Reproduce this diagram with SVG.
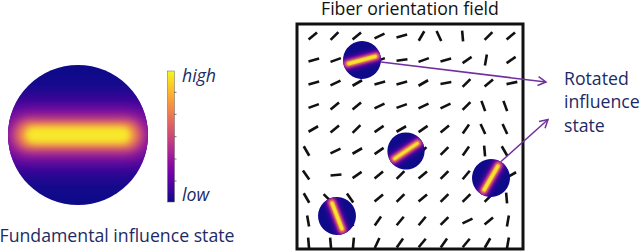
<svg xmlns="http://www.w3.org/2000/svg" xmlns:xlink="http://www.w3.org/1999/xlink" width="640" height="251" viewBox="0 0 640 251">
<style>
  .t { font-family: "Open Sans", "Noto Sans", sans-serif; font-size: 17.7px; }
  .navy { fill: #1c2a66; }
  .blk { fill: #111111; }
  .it { font-style: italic; }
  .dash { stroke: #111111; stroke-width: 2.6; stroke-linecap: butt; }
  .conn { stroke: #7030a0; stroke-width: 1.5; fill: none; }
  .tick { stroke: #555555; stroke-width: 0.8; }
</style>
<defs>
  <filter id="b12" x="-50%" y="-100%" width="200%" height="300%"><feGaussianBlur stdDeviation="13"/></filter>
  <filter id="b8" x="-50%" y="-100%" width="200%" height="300%"><feGaussianBlur stdDeviation="8"/></filter>
  <filter id="b5" x="-50%" y="-100%" width="200%" height="300%"><feGaussianBlur stdDeviation="5"/></filter>
  <filter id="b3" x="-50%" y="-100%" width="200%" height="300%"><feGaussianBlur stdDeviation="3"/></filter>
  <filter id="b2" x="-50%" y="-100%" width="200%" height="300%"><feGaussianBlur stdDeviation="2.4"/></filter>
  <clipPath id="cc"><circle cx="0" cy="0" r="70"/></clipPath>
  <linearGradient id="plasma" x1="0" y1="1" x2="0" y2="0">
    <stop offset="0" stop-color="#0d0887"/>
    <stop offset="0.1" stop-color="#41049d"/>
    <stop offset="0.2" stop-color="#6a00a8"/>
    <stop offset="0.3" stop-color="#8f0da4"/>
    <stop offset="0.4" stop-color="#b12a90"/>
    <stop offset="0.5" stop-color="#cc4778"/>
    <stop offset="0.6" stop-color="#e16462"/>
    <stop offset="0.7" stop-color="#f2844b"/>
    <stop offset="0.8" stop-color="#fca636"/>
    <stop offset="0.9" stop-color="#fcce25"/>
    <stop offset="1" stop-color="#f0f921"/>
  </linearGradient>
  <g id="heatBig">
    <circle cx="0" cy="0" r="70" fill="#0f0a8a"/>
    <g clip-path="url(#cc)">
      <rect x="-100" y="-34" width="200" height="68" rx="34" fill="#6a00a8" filter="url(#b12)"/>
      <rect x="-72" y="-21" width="144" height="42" rx="21" fill="#b8308f" filter="url(#b8)"/>
      <rect x="-62" y="-14" width="124" height="28" rx="14" fill="#f28a48" filter="url(#b5)"/>
      <rect x="-53" y="-8.5" width="106" height="17" rx="8.5" fill="#f8e82a" filter="url(#b3)"/>
    </g>
  </g>
  <g id="heatSmall">
    <circle cx="0" cy="0" r="70" fill="#0f0a8a"/>
    <g clip-path="url(#cc)">
      <rect x="-85" y="-24" width="170" height="48" rx="24" fill="#6a00a8" filter="url(#b8)"/>
      <rect x="-70" y="-15" width="140" height="30" rx="15" fill="#c0398a" filter="url(#b5)"/>
      <rect x="-63" y="-10" width="126" height="20" rx="10" fill="#f58c46" filter="url(#b3)"/>
      <rect x="-57" y="-6" width="114" height="12" rx="6" fill="#f6e62a" filter="url(#b2)"/>
    </g>
  </g>
  <line id="d" x1="-5.5" y1="0" x2="5.5" y2="0" class="dash"/>
  <marker id="ah" markerUnits="userSpaceOnUse" markerWidth="12" markerHeight="12" refX="10" refY="6" orient="auto" overflow="visible">
    <path d="M2,1.5 L10,6 L2,10.5" fill="none" stroke="#7030a0" stroke-width="1.5"/>
  </marker>
</defs>

<g id="fundamental-state">
  <use href="#heatBig" transform="translate(78,135)"/>
  <text class="t navy" x="-0.5" y="242">Fundamental influence state</text>
</g>

<g id="colorbar">
  <rect x="167.5" y="71" width="7" height="131" fill="url(#plasma)" stroke="#666" stroke-width="0.5"/>
  <line class="tick" x1="174" y1="92.3" x2="176.5" y2="92.3"/>
  <line class="tick" x1="174" y1="114.3" x2="176.5" y2="114.3"/>
  <line class="tick" x1="174" y1="136.7" x2="176.5" y2="136.7"/>
  <line class="tick" x1="174" y1="159" x2="176.5" y2="159"/>
  <line class="tick" x1="174" y1="181" x2="176.5" y2="181"/>
  <text class="t navy it" x="182" y="82">high</text>
  <text class="t navy it" x="182" y="201">low</text>
</g>

<g id="fiber-field">
  <text class="t blk" x="321" y="15">Fiber orientation field</text>
  <rect x="297" y="24" width="226" height="225" fill="none" stroke="#111" stroke-width="3"/>
  <g id="dashes">
    <use href="#d" transform="translate(312.8,36) rotate(-40)"/>
    <use href="#d" transform="translate(334.5,36) rotate(-45)"/>
    <use href="#d" transform="translate(356.8,36) rotate(-40)"/>
    <use href="#d" transform="translate(379.5,36) rotate(-25)"/>
    <use href="#d" transform="translate(401.8,36) rotate(-15)"/>
    <use href="#d" transform="translate(421.5,36) rotate(-60)"/>
    <use href="#d" transform="translate(438.9,36) rotate(-115)"/>
    <use href="#d" transform="translate(462.6,36) rotate(-95)"/>
    <use href="#d" transform="translate(488.5,36) rotate(-45)"/>
    <use href="#d" transform="translate(510.8,36) rotate(-40)"/>

    <use href="#d" transform="translate(313.8,60) rotate(-15)"/>
    <use href="#d" transform="translate(335.7,60) rotate(-20)"/>
    <use href="#d" transform="translate(357.3,60) rotate(-30)"/>
    <use href="#d" transform="translate(379.7,60) rotate(-20)"/>
    <use href="#d" transform="translate(402,60) rotate(-8)"/>
    <use href="#d" transform="translate(423.7,60) rotate(-20)"/>
    <use href="#d" transform="translate(445.8,60) rotate(-15)"/>
    <use href="#d" transform="translate(467.1,60) rotate(-35)"/>
    <use href="#d" transform="translate(485.9,60) rotate(-80)"/>
    <use href="#d" transform="translate(511.1,60) rotate(-35)"/>

    <use href="#d" transform="translate(313.8,83) rotate(-15)"/>
    <use href="#d" transform="translate(335.5,83) rotate(-25)"/>
    <use href="#d" transform="translate(357.3,83) rotate(-30)"/>
    <use href="#d" transform="translate(379.8,83) rotate(-15)"/>
    <use href="#d" transform="translate(401.8,83) rotate(-15)"/>
    <use href="#d" transform="translate(423.3,83) rotate(-30)"/>
    <use href="#d" transform="translate(445.9,83) rotate(-10)"/>
    <use href="#d" transform="translate(466.5,83) rotate(-45)"/>
    <use href="#d" transform="translate(488.8,83) rotate(-40)"/>
    <use href="#d" transform="translate(511.9,83) rotate(-12)"/>

    <use href="#d" transform="translate(313.7,106) rotate(-20)"/>
    <use href="#d" transform="translate(334.8,106) rotate(-40)"/>
    <use href="#d" transform="translate(356.8,106) rotate(-40)"/>
    <use href="#d" transform="translate(379.5,106) rotate(-25)"/>
    <use href="#d" transform="translate(401.7,106) rotate(-20)"/>
    <use href="#d" transform="translate(423.5,106) rotate(-25)"/>
    <use href="#d" transform="translate(445.5,106) rotate(-25)"/>
    <use href="#d" transform="translate(466.5,106) rotate(-45)"/>
    <use href="#d" transform="translate(483.3,106) rotate(-110)"/>
    <use href="#d" transform="translate(505.3,106) rotate(-110)"/>

    <use href="#d" transform="translate(313.3,129) rotate(-30)"/>
    <use href="#d" transform="translate(334.8,129) rotate(-40)"/>
    <use href="#d" transform="translate(356.5,129) rotate(-45)"/>
    <use href="#d" transform="translate(379.1,129) rotate(-35)"/>
    <use href="#d" transform="translate(401.3,129) rotate(-30)"/>
    <use href="#d" transform="translate(423.1,129) rotate(-35)"/>
    <use href="#d" transform="translate(444.8,129) rotate(-40)"/>
    <use href="#d" transform="translate(465.9,129) rotate(-55)"/>
    <use href="#d" transform="translate(482.9,129) rotate(-115)"/>
    <use href="#d" transform="translate(504.9,129) rotate(-115)"/>

    <use href="#d" transform="translate(306.5,151) rotate(-120)"/>
    <use href="#d" transform="translate(335.5,151) rotate(-25)"/>
    <use href="#d" transform="translate(357.3,151) rotate(-30)"/>
    <use href="#d" transform="translate(379.1,151) rotate(-35)"/>
    <use href="#d" transform="translate(400.8,151) rotate(-40)"/>
    <use href="#d" transform="translate(422.5,151) rotate(-45)"/>
    <use href="#d" transform="translate(444.5,151) rotate(-45)"/>
    <use href="#d" transform="translate(465.9,151) rotate(-55)"/>
    <use href="#d" transform="translate(484.6,151) rotate(-95)"/>
    <use href="#d" transform="translate(504.5,151) rotate(-120)"/>

    <use href="#d" transform="translate(306.1,175) rotate(-125)"/>
    <use href="#d" transform="translate(336,175) rotate(-5)"/>
    <use href="#d" transform="translate(357.1,175) rotate(-35)"/>
    <use href="#d" transform="translate(378.8,175) rotate(-40)"/>
    <use href="#d" transform="translate(400.5,175) rotate(-45)"/>
    <use href="#d" transform="translate(422.8,175) rotate(-40)"/>
    <use href="#d" transform="translate(444.5,175) rotate(-45)"/>
    <use href="#d" transform="translate(466.2,175) rotate(-50)"/>
    <use href="#d" transform="translate(488.2,175) rotate(-50)"/>
    <use href="#d" transform="translate(511.3,175) rotate(-30)"/>

    <use href="#d" transform="translate(306.5,198) rotate(-120)"/>
    <use href="#d" transform="translate(327.5,198) rotate(-135)"/>
    <use href="#d" transform="translate(350.1,198) rotate(-125)"/>
    <use href="#d" transform="translate(378.8,198) rotate(-40)"/>
    <use href="#d" transform="translate(400.5,198) rotate(-45)"/>
    <use href="#d" transform="translate(422.8,198) rotate(-40)"/>
    <use href="#d" transform="translate(444.5,198) rotate(-45)"/>
    <use href="#d" transform="translate(466.5,198) rotate(-45)"/>
    <use href="#d" transform="translate(488.5,198) rotate(-45)"/>
    <use href="#d" transform="translate(506.6,198) rotate(-95)"/>

    <use href="#d" transform="translate(308.1,221) rotate(-100)"/>
    <use href="#d" transform="translate(329.3,221) rotate(-110)"/>
    <use href="#d" transform="translate(351.3,221) rotate(-110)"/>
    <use href="#d" transform="translate(377.9,221) rotate(-55)"/>
    <use href="#d" transform="translate(400.2,221) rotate(-50)"/>
    <use href="#d" transform="translate(422.2,221) rotate(-50)"/>
    <use href="#d" transform="translate(444.5,221) rotate(-45)"/>
    <use href="#d" transform="translate(467.5,221) rotate(-25)"/>
    <use href="#d" transform="translate(488.8,221) rotate(-40)"/>
    <use href="#d" transform="translate(507.9,221) rotate(-80)"/>

    <use href="#d" transform="translate(308.6,243) rotate(-95)"/>
    <use href="#d" transform="translate(330.6,243) rotate(-95)"/>
    <use href="#d" transform="translate(353.4,243) rotate(-85)"/>
    <use href="#d" transform="translate(377.1,243) rotate(-65)"/>
    <use href="#d" transform="translate(399.9,243) rotate(-55)"/>
    <use href="#d" transform="translate(422.2,243) rotate(-50)"/>
    <use href="#d" transform="translate(443.9,243) rotate(-55)"/>
    <use href="#d" transform="translate(466.2,243) rotate(-50)"/>
    <use href="#d" transform="translate(487.5,243) rotate(-60)"/>
    <use href="#d" transform="translate(507.9,243) rotate(-80)"/>
  </g>
</g>

<g id="state-a"><use href="#heatSmall" transform="translate(362,60) scale(0.271) rotate(-15)"/></g>
<g id="state-b"><use href="#heatSmall" transform="translate(406,151) scale(0.266) rotate(-34)"/></g>
<g id="state-c"><use href="#heatSmall" transform="translate(491,178) scale(0.271) rotate(-60)"/></g>
<g id="state-d"><use href="#heatSmall" transform="translate(337,216) scale(0.271) rotate(69)"/></g>

<g id="rotated-label">
  <text class="t navy" x="564" y="85">Rotated</text>
  <text class="t navy" x="564" y="108">influence</text>
  <text class="t navy" x="564" y="132">state</text>
</g>

<g id="connectors">
  <line class="conn" x1="381" y1="62" x2="546" y2="82" marker-end="url(#ah)"/>
  <line class="conn" x1="501" y1="161.5" x2="548" y2="119.5" marker-end="url(#ah)"/>
</g>
</svg>
